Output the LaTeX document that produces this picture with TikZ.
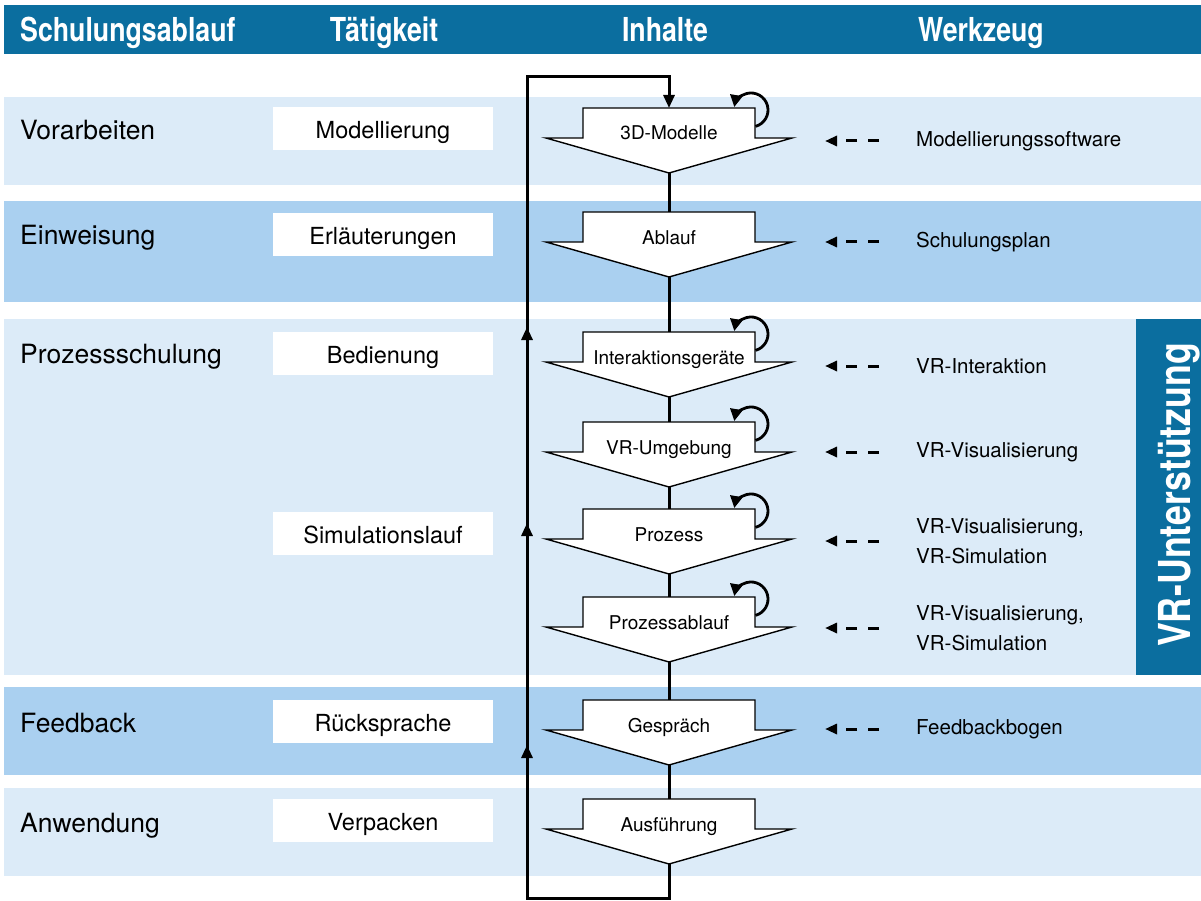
\documentclass[tikz,border=0pt]{standalone}
\usepackage{fontspec}
\setmainfont{TeX Gyre Heros}
\newfontfamily\condfont[FakeStretch=0.81]{TeX Gyre Heros}
\usetikzlibrary{arrows.meta,decorations.markings}

\definecolor{kopfblau}{RGB}{11,110,159}
\definecolor{hellblau}{RGB}{220,235,248}
\definecolor{mittelblau}{RGB}{170,208,240}

\begin{document}
\begin{tikzpicture}[x=1pt,y=-1pt,
  kopf/.style={text=white,anchor=base,inner sep=0pt,font=\condfont\bfseries\fontsize{33}{36}\selectfont},
  phase/.style={anchor=base west,inner sep=0pt,font=\fontsize{26.5}{30}\selectfont},
  taetigkeit/.style={fill=white,minimum width=220pt,minimum height=43pt,inner sep=0pt,
    text height=23pt,text depth=3pt,font=\fontsize{23.5}{26}\selectfont},
  inhalt/.style={anchor=base,inner sep=0pt,font=\fontsize{19}{22}\selectfont},
  werkzeug/.style={anchor=west,align=left,inner sep=0pt,font=\fontsize{20.5}{30}\selectfont},
  pfeilform/.style={draw=black,fill=white,line width=1.4pt},
  fluss/.style={line width=3pt},
  spitze/.style={-{Triangle[length=13pt,width=11pt]}},
  schleife/.style={line width=2.8pt,-{Triangle[length=12pt,width=12pt]}},
  zufuehrung/.style={line width=3pt,dash pattern=on 11pt off 11pt,-{Triangle[length=12pt,width=10pt]}}]

  \useasboundingbox (0,0) rectangle (1201,901);

  % Inhalt als Blockpfeil: Name, Oberkante, Text
  \def\inhalt#1#2#3{
    \draw[pfeilform] (546,#2+30) -- (583,#2+30) -- (583,#2) -- (755,#2) -- (755,#2+30)
      -- (792,#2+30) -- (669,#2+65) -- cycle;
    \node[inhalt] (#1) at (669,#2+32) {#3};
    \coordinate (#1-oben) at (669,#2);
    \coordinate (#1-unten) at (669,#2+65);
    \coordinate (#1-rand) at (755.4,#2+18.4);
  }
  \def\schleife#1{\draw[schleife] (#1-rand) arc[start angle=-75,end angle=170,radius=17pt];}

  % Zeilen
  \fill[kopfblau] (4,5) rectangle (1201,54);
  \fill[hellblau] (4,97) rectangle (1201,185);
  \fill[mittelblau] (4,201) rectangle (1201,302);
  \fill[hellblau] (4,319) rectangle (1201,675);
  \fill[mittelblau] (4,687) rectangle (1201,775);
  \fill[hellblau] (4,788) rectangle (1201,876);
  \fill[kopfblau] (1136,319) rectangle (1201,675);

  \node[kopf,anchor=base west] (ablaufkopf) at (20,42) {Schulungsablauf};
  \node[kopf] (taetigkeitkopf) at (384,42) {Tätigkeit};
  \node[kopf] (inhaltkopf) at (665,42) {Inhalte};
  \node[kopf] (werkzeugkopf) at (981,42) {Werkzeug};
  \node[kopf,rotate=90,font=\condfont\bfseries\fontsize{44}{48}\selectfont] (vr) at (1190,495) {VR-Unterstützung};

  \node[phase] (vorarbeiten) at (20,140) {Vorarbeiten};
  \node[phase] (einweisung) at (20,244) {Einweisung};
  \node[phase] (prozessschulung) at (20,363) {Prozessschulung};
  \node[phase] (feedback) at (20,732) {Feedback};
  \node[phase] (anwendung) at (20,832) {Anwendung};

  \node[taetigkeit] (modellierung) at (383,128.5) {Modellierung};
  \node[taetigkeit] (erlaeuterungen) at (383,234.5) {Erläuterungen};
  \node[taetigkeit] (bedienung) at (383,353.5) {Bedienung};
  \node[taetigkeit] (simulationslauf) at (383,533.5) {Simulationslauf};
  \node[taetigkeit] (ruecksprache) at (383,721.5) {Rücksprache};
  \node[taetigkeit] (verpacken) at (383,820.5) {Verpacken};

  \inhalt{modelle}{108}{3D-Modelle}
  \inhalt{ablauf}{212}{Ablauf}
  \inhalt{geraete}{332}{Interaktionsgeräte}
  \inhalt{umgebung}{422}{VR-Umgebung}
  \inhalt{prozess}{509}{Prozess}
  \inhalt{prozessablauf}{597}{Prozessablauf}
  \inhalt{gespraech}{700}{Gespräch}
  \inhalt{ausfuehrung}{799}{Ausführung}

  \schleife{modelle}
  \schleife{geraete}
  \schleife{umgebung}
  \schleife{prozess}
  \schleife{prozessablauf}

  \draw[fluss] (modelle-unten) -- (ablauf-oben);
  \draw[fluss] (ablauf-unten) -- (geraete-oben);
  \draw[fluss] (geraete-unten) -- (umgebung-oben);
  \draw[fluss] (umgebung-unten) -- (prozess-oben);
  \draw[fluss] (prozess-unten) -- (prozessablauf-oben);
  \draw[fluss] (prozessablauf-unten) -- (gespraech-oben);
  \draw[fluss] (gespraech-unten) -- (ausfuehrung-oben);

  \coordinate (rueckSO) at (669,898);
  \coordinate (rueckSW) at (527,898);
  \coordinate (rueckNW) at (527,77);
  \coordinate (rueckNO) at (669,77);
  \draw[fluss,spitze,postaction={decorate},decoration={markings,
      mark=at position 329pt with {\arrow{Triangle[length=13pt,width=11pt]}},
      mark=at position 551pt with {\arrow{Triangle[length=13pt,width=11pt]}},
      mark=at position 747pt with {\arrow{Triangle[length=13pt,width=11pt]}}}]
    (ausfuehrung-unten) -- (rueckSO) -- (rueckSW) -- (rueckNW) -- (rueckNO) -- (modelle-oben);

  \node[werkzeug] (software) at (916,141) {Modellierungssoftware};
  \node[werkzeug] (plan) at (916,242) {Schulungsplan};
  \node[werkzeug] (interaktion) at (916,366) {VR-Interaktion};
  \node[werkzeug] (visual) at (916,452) {VR-Visualisierung};
  \node[werkzeug] (simA) at (916,541) {VR-Visualisierung,\\VR-Simulation};
  \node[werkzeug] (simB) at (916,628) {VR-Visualisierung,\\VR-Simulation};
  \node[werkzeug] (bogen) at (916,729) {Feedbackbogen};

  \foreach \w in {software,plan,interaktion,visual,simA,simB,bogen}
    \draw[zufuehrung] ([xshift=-37pt]\w.west) -- ++(-54,0);

\end{tikzpicture}
\end{document}
